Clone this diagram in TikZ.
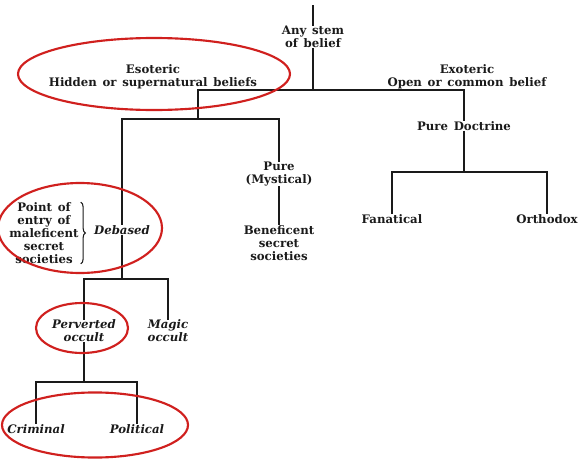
\documentclass[tikz,border=0pt]{standalone}
\usepackage{fontspec}
\setmainfont{DejaVu Serif}[WordSpace=1.4]
\usepackage{tikz}
\usetikzlibrary{decorations.pathreplacing}
\definecolor{ink}{HTML}{1A1A1A}
\definecolor{ringcol}{HTML}{D0201E}

\begin{document}
\begin{tikzpicture}[
  x=0.75pt, y=-0.75pt, line cap=butt, line join=miter,
  txt/.style={inner sep=0pt, align=center, ink,
              font=\fontsize{8.8}{9.75}\selectfont\bfseries},
  itl/.style={txt, font=\fontsize{8.8}{9.75}\selectfont\bfseries\itshape},
  br/.style={ink, line width=1.1pt},
  ring/.style={draw=ringcol, line width=1.6pt}]

\useasboundingbox (0,0) rectangle (583,468);

% ================================================================ top
\coordinate (top) at (313,5);
\node[txt] (stem) at (313,37) {Any stem\\of belief};
\coordinate (j1) at (313,90);
\draw[br] (top) -- (stem.north);
\draw[br] (stem.south) -- (j1);

\node[txt] (eso) at (153,77) {Esoteric\\Hidden or supernatural beliefs};
\node[txt] (exo) at (467,77) {Exoteric\\Open or common belief};

% ================================================================ exoteric side
\node[txt] (doctrine) at (464,126) {Pure Doctrine};
\coordinate (j3) at (464,172);
\node[txt] (fan) at (392,219) {Fanatical};
\node[txt] (orth) at (547,219) {Orthodox};
\draw[br] (j1) -| (doctrine.north);
\draw[br] (doctrine.south) -- (j3);
\draw[br] (j3) -| (fan.north);
\draw[br] (j3) -| (orth.north);

% ================================================================ esoteric side
\coordinate (j2) at (198,119);
\draw[br] (j1) -| (j2);

\node[txt] (mystic) at (279,174) {Pure\\(Mystical)};
\node[txt] (benef) at (279,243) {Beneficent\\secret\\societies};
\draw[br] (j2) -| (mystic.north);
\draw[br] (mystic.south) -- (benef.north);

\node[itl] (debased) at (122,230) {Debased};
\node[txt] (entry) at (44,233) {Point of\\entry of\\maleficent\\secret\\societies};
\draw[br] (j2) -| (debased.north);
\draw[ink, line width=0.8pt, decorate, decoration={brace, amplitude=3.5pt}]
  ([xshift=1.5pt]entry.north east) -- ([xshift=1.5pt]entry.south east);

\coordinate (j4) at (122,279);
\node[itl] (perv) at (84,331) {Perverted\\occult};
\node[itl] (magic) at (168,331) {Magic\\occult};
\draw[br] (debased.south) -- (j4);
\draw[br] (j4) -| (perv.north);
\draw[br] (j4) -| (magic.north);

\coordinate (j5) at (84,382);
\node[itl] (crim) at (36,429) {Criminal};
\node[itl] (polit) at (137,429) {Political};
\draw[br] (perv.south) -- (j5);
\draw[br] (j5) -| (crim.north);
\draw[br] (j5) -| (polit.north);

% ================================================================ red rings
\draw[ring] (154,74) ellipse [x radius=102pt, y radius=27pt];
\draw[ring] (80,228) ellipse [x radius=61.5pt, y radius=33.75pt];
\draw[ring] (82,328) ellipse [x radius=34.5pt, y radius=18.75pt];
\draw[ring] (95,425) ellipse [x radius=69.75pt, y radius=24.4pt];

\end{tikzpicture}
\end{document}
